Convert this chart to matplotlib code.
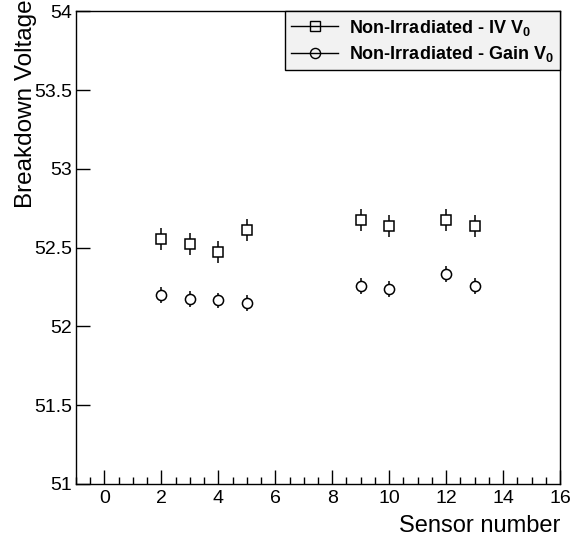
import matplotlib
matplotlib.use("Agg")
import matplotlib.pyplot as plt
from matplotlib.lines import Line2D
from matplotlib.ticker import MultipleLocator

plt.rcParams["font.family"] = "Liberation Sans"
plt.rcParams["mathtext.fontset"] = "custom"
plt.rcParams["mathtext.rm"] = "Liberation Sans"
plt.rcParams["mathtext.bf"] = "Liberation Sans:bold"

# Data
sensors = [2, 3, 4, 5, 9, 10, 12, 13]
iv_v0 = [52.555, 52.525, 52.47, 52.61, 52.675, 52.635, 52.675, 52.635]
iv_err = [0.07, 0.07, 0.07, 0.07, 0.07, 0.07, 0.07, 0.07]
gain_v0 = [52.20, 52.175, 52.165, 52.15, 52.255, 52.24, 52.335, 52.255]
gain_err = [0.05, 0.05, 0.05, 0.05, 0.05, 0.05, 0.05, 0.05]

fig = plt.figure(figsize=(5.74, 5.44), dpi=100)
ax = fig.add_axes([0.1324, 0.1103, 0.8432, 0.8687])

ax.errorbar(sensors, iv_v0, yerr=iv_err, fmt="s", ms=6.7, mfc="white",
            mec="black", mew=1.1, ecolor="black", elinewidth=1.1, capsize=0)
ax.errorbar(sensors, gain_v0, yerr=gain_err, fmt="o", ms=7.3, mfc="white",
            mec="black", mew=1.1, ecolor="black", elinewidth=1.1, capsize=0)

ax.set_xlim(-1, 16)
ax.set_ylim(51, 54)
ax.xaxis.set_major_locator(MultipleLocator(2))
ax.xaxis.set_minor_locator(MultipleLocator(0.5))
ax.set_yticks([51, 51.5, 52, 52.5, 53, 53.5, 54])
ax.set_yticklabels(["51", "51.5", "52", "52.5", "53", "53.5", "54"])
ax.tick_params(axis="both", which="both", direction="in", top=False, right=False,
               labelsize=14, color="black")
ax.tick_params(axis="x", which="major", length=10, width=1, pad=4)
ax.tick_params(axis="x", which="minor", length=5, width=1)
ax.tick_params(axis="y", which="major", length=10, width=1, pad=3)
for s in ax.spines.values():
    s.set_linewidth(1)

ax.set_xlabel("Sensor number", fontsize=17, ha="right")
ax.xaxis.set_label_coords(1.0, -0.065)
ax.set_ylabel("Breakdown Voltage", fontsize=17.5, ha="right")
ax.yaxis.set_label_coords(-0.08, 1.025)

handles = [
    Line2D([], [], color="black", lw=1, marker="s", ms=7, mfc="none", mec="black"),
    Line2D([], [], color="black", lw=1, marker="o", ms=7.3, mfc="none", mec="black"),
]
labels = [r"Non-Irradiated - IV $\mathbf{V_0}$", r"Non-Irradiated - Gain $\mathbf{V_0}$"]
leg = ax.legend(handles, labels, loc="upper right", bbox_to_anchor=(1.0, 1.0),
                borderaxespad=0, fancybox=False, framealpha=1, edgecolor="black",
                facecolor="#f2f2f2", prop={"weight": "bold", "size": 13},
                handlelength=2.6, handletextpad=0.6, borderpad=0.35,
                labelspacing=0.35)
leg.get_frame().set_linewidth(1)

fig.savefig("out.png", dpi=100)
